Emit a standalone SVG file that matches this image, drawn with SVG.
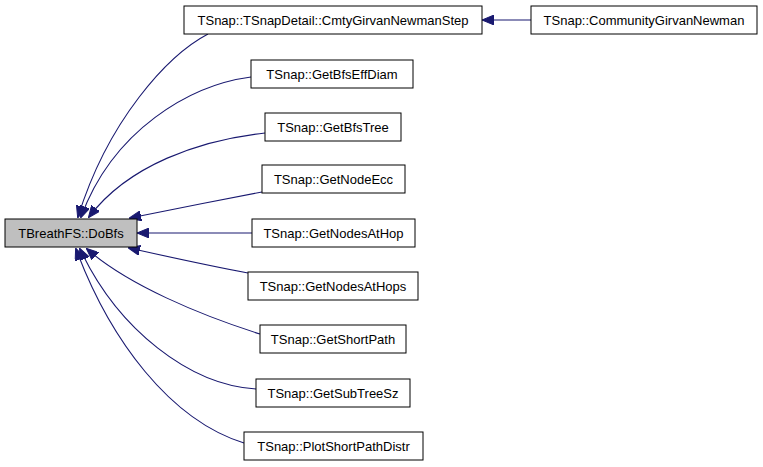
<svg xmlns="http://www.w3.org/2000/svg" width="763" height="467" viewBox="0 0 763 467">
<style>
.n rect{fill:#fff;stroke:#000;stroke-width:1}
.n.h rect{fill:#bfbfbf}
.n text{font-family:"Liberation Sans",Arial,sans-serif;font-size:13px;text-anchor:middle;fill:#000}
.e path{fill:none;stroke:#191970;stroke-width:1.1;marker-end:url(#ah)}
</style>
<defs>
<marker id="ah" viewBox="0 0 12 10" refX="11" refY="5" markerWidth="12" markerHeight="10" markerUnits="userSpaceOnUse" orient="auto">
<path d="M0,0 L12,5 L0,10 z" fill="#191970" stroke="#191970"/>
</marker>
</defs>
<g class="e" id="edges">
<path d="M531,20 L483,20"/>
<path d="M208,34 C168,55 108,120 78,217"/>
<path d="M251,77 C190,85 113,130 81,217"/>
<path d="M265,133 C200,140 128,165 89,217"/>
<path d="M262,192 C220,200 170,210 130,218"/>
<path d="M252,233 L138,233"/>
<path d="M248,273 C205,265 165,256 129,248"/>
<path d="M260,334 C200,315 128,285 87,249"/>
<path d="M256,389 C190,385 118,330 80,249"/>
<path d="M244,443 C170,420 110,340 76,249"/>
</g>
<g class="n h" id="n_dobfs"><rect x="5" y="219" width="132" height="28"/><text x="71" y="238">TBreathFS::DoBfs</text></g>
<g class="n" id="n_cmtystep"><rect x="184" y="6" width="298" height="28"/><text x="333" y="25">TSnap::TSnapDetail::CmtyGirvanNewmanStep</text></g>
<g class="n" id="n_community"><rect x="531" y="6" width="226" height="28"/><text x="644" y="25">TSnap::CommunityGirvanNewman</text></g>
<g class="n" id="n_bfseffdiam"><rect x="251" y="60" width="162" height="28"/><text x="332" y="79">TSnap::GetBfsEffDiam</text></g>
<g class="n" id="n_bfstree"><rect x="265" y="113" width="136" height="28"/><text x="333" y="132">TSnap::GetBfsTree</text></g>
<g class="n" id="n_nodeecc"><rect x="262" y="165" width="143" height="28"/><text x="333.5" y="184">TSnap::GetNodeEcc</text></g>
<g class="n" id="n_nodesathop"><rect x="252" y="219" width="163" height="28"/><text x="333.5" y="238">TSnap::GetNodesAtHop</text></g>
<g class="n" id="n_nodesathops"><rect x="248" y="272" width="170" height="28"/><text x="333" y="291">TSnap::GetNodesAtHops</text></g>
<g class="n" id="n_shortpath"><rect x="260" y="325" width="146" height="28"/><text x="333" y="344">TSnap::GetShortPath</text></g>
<g class="n" id="n_subtreesz"><rect x="256" y="379" width="154" height="28"/><text x="333" y="398">TSnap::GetSubTreeSz</text></g>
<g class="n" id="n_plotshort"><rect x="244" y="432" width="179" height="28"/><text x="333.5" y="451">TSnap::PlotShortPathDistr</text></g>
</svg>
